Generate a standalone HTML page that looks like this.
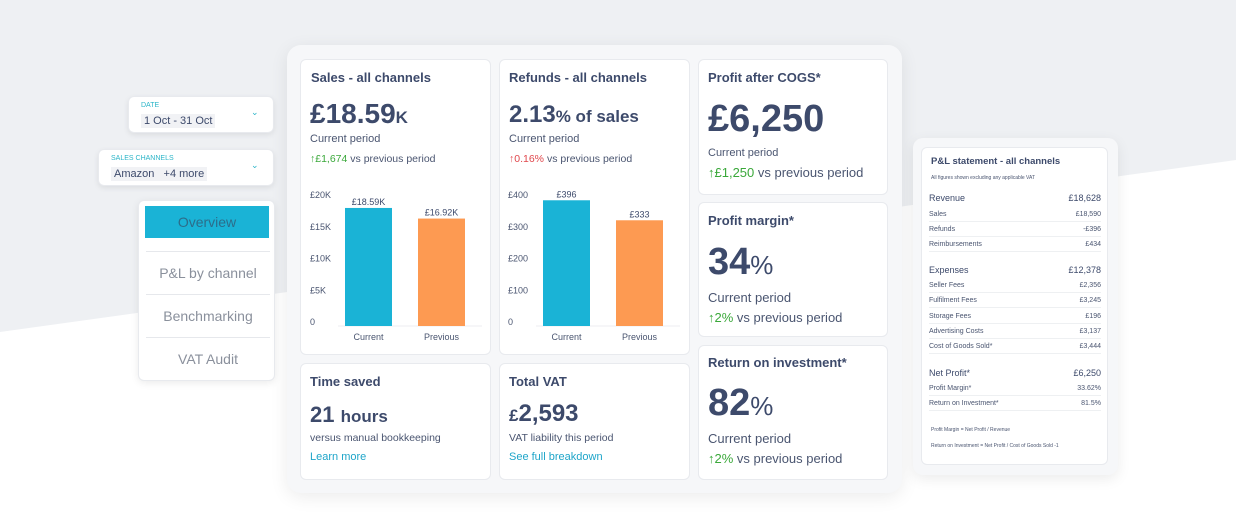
<!DOCTYPE html>
<html><head><meta charset="utf-8">
<style>
*{box-sizing:border-box;margin:0;padding:0}
body{width:1236px;height:531px;overflow:hidden;position:relative;font-family:"Liberation Sans",sans-serif;color:#3d4a6b;background:#fff}
.abs{position:absolute}
.card{position:absolute;background:#fff;border:1px solid #e8eaee;border-radius:6px}
.t{position:absolute;white-space:nowrap}
.h{font-size:13px;font-weight:bold;color:#3d4a6b}
.sub{font-size:12px;color:#4a5570}
.g{color:#3aa83a}.r{color:#e0474c}
.lnk{font-size:11px;color:#1ea5c9}
.nav{position:absolute;left:146px;width:124px;text-align:center;font-size:14px;color:#8a909c;height:42px;line-height:42px;border-top:1px solid #e6e8ec}
.pl{position:absolute;left:929px;width:172px;font-size:7px;color:#4a5570;display:flex;justify-content:space-between;border-bottom:1px solid #eef0f2;padding-bottom:3px}
.pl.big{font-size:9px;color:#3d4a6b;border:none}
</style></head><body>
<svg class="abs" style="left:0;top:0" width="1236" height="531">
<polygon points="0,0 1236,0 1236,160 0,332" fill="#eef0f3"/>
</svg>

<!-- filters -->
<div class="card" style="left:128px;top:96px;width:146px;height:37px;box-shadow:0 2px 6px rgba(0,0,0,.08)">
 <div class="t" style="left:12px;top:5px;font-size:7px;color:#2bb5c8">DATE</div>
 <div class="t" style="left:12px;top:17px;font-size:11px;background:#f1f2f5;padding:1px 3px">1 Oct - 31 Oct</div>
 <div class="t" style="left:122px;top:10px;font-size:9px;color:#2bb5c8">⌄</div>
</div>
<div class="card" style="left:98px;top:149px;width:176px;height:37px;box-shadow:0 2px 6px rgba(0,0,0,.08)">
 <div class="t" style="left:12px;top:5px;font-size:7px;color:#2bb5c8">SALES CHANNELS</div>
 <div class="t" style="left:12px;top:17px;font-size:11px;background:#f1f2f5;padding:1px 3px">Amazon &nbsp; +4 more</div>
 <div class="t" style="left:152px;top:10px;font-size:9px;color:#2bb5c8">⌄</div>
</div>
<div class="card" style="left:138px;top:200px;width:137px;height:181px;box-shadow:0 2px 8px rgba(0,0,0,.08)"></div>
<div class="abs" style="left:145px;top:206px;width:124px;height:32px;background:#1ab3d6;color:#2c6d8a;font-size:14px;text-align:center;line-height:32px">Overview</div>
<div class="nav" style="top:251px">P&amp;L by channel</div>
<div class="nav" style="top:294px">Benchmarking</div>
<div class="nav" style="top:337px">VAT Audit</div>

<!-- main panel -->
<div class="abs" style="left:287px;top:45px;width:615px;height:448px;background:#f6f7f9;border-radius:14px;box-shadow:0 4px 18px rgba(0,0,0,.08)"></div>

<div class="card" style="left:300px;top:59px;width:191px;height:296px">
 <div class="t h" style="left:10px;top:10px">Sales - all channels</div>
 <div class="t" style="left:9px;top:38px;font-size:28px;font-weight:bold">£18.59<span style="font-size:17px">K</span></div>
 <div class="t sub" style="left:9px;top:73px;font-size:11px">Current period</div>
 <div class="t sub" style="left:9px;top:93px;font-size:10.5px"><span class="g">↑£1,674</span> vs previous period</div>
</div>
<div class="card" style="left:499px;top:59px;width:191px;height:296px">
 <div class="t h" style="left:9px;top:10px">Refunds - all channels</div>
 <div class="t" style="left:9px;top:41px;font-size:24px;font-weight:bold">2.13<span style="font-size:17px">% of sales</span></div>
 <div class="t sub" style="left:9px;top:73px;font-size:11px">Current period</div>
 <div class="t sub" style="left:9px;top:93px;font-size:10.5px"><span class="r">↑0.16%</span> vs previous period</div>
</div>
<svg class="abs" style="left:300px;top:180px" width="391" height="175" id="charts"></svg>

<div class="card" style="left:698px;top:59px;width:190px;height:136px">
 <div class="t h" style="left:9px;top:10px">Profit after COGS*</div>
 <div class="t" style="left:9px;top:38px;font-size:38px;font-weight:bold">£6,250</div>
 <div class="t sub" style="left:9px;top:87px;font-size:11px">Current period</div>
 <div class="t sub" style="left:9px;top:105px;font-size:13px"><span class="g">↑£1,250</span> vs previous period</div>
</div>
<div class="card" style="left:698px;top:202px;width:190px;height:135px">
 <div class="t h" style="left:9px;top:10px">Profit margin*</div>
 <div class="t" style="left:9px;top:38px;font-size:38px;font-weight:bold">34<span style="font-size:26px;font-weight:normal">%</span></div>
 <div class="t sub" style="left:9px;top:87px;font-size:13px">Current period</div>
 <div class="t sub" style="left:9px;top:107px;font-size:13px"><span class="g">↑2%</span> vs previous period</div>
</div>
<div class="card" style="left:698px;top:345px;width:190px;height:135px">
 <div class="t h" style="left:9px;top:9px">Return on investment*</div>
 <div class="t" style="left:9px;top:36px;font-size:38px;font-weight:bold">82<span style="font-size:26px;font-weight:normal">%</span></div>
 <div class="t sub" style="left:9px;top:85px;font-size:13px">Current period</div>
 <div class="t sub" style="left:9px;top:105px;font-size:13px"><span class="g">↑2%</span> vs previous period</div>
</div>
<div class="card" style="left:300px;top:363px;width:191px;height:117px">
 <div class="t h" style="left:9px;top:10px">Time saved</div>
 <div class="t" style="left:9px;top:38px;font-size:22px;font-weight:bold">21 <span style="font-size:17px">hours</span></div>
 <div class="t sub" style="left:9px;top:68px;font-size:10.5px">versus manual bookkeeping</div>
 <div class="t lnk" style="left:9px;top:87px">Learn more</div>
</div>
<div class="card" style="left:499px;top:363px;width:191px;height:117px">
 <div class="t h" style="left:9px;top:10px">Total VAT</div>
 <div class="t" style="left:9px;top:36px;font-size:24px;font-weight:bold"><span style="font-size:17px">£</span>2,593</div>
 <div class="t sub" style="left:9px;top:68px;font-size:10.5px">VAT liability this period</div>
 <div class="t lnk" style="left:9px;top:87px">See full breakdown</div>
</div>

<!-- P&L -->
<div class="abs" style="left:913px;top:138px;width:205px;height:337px;background:#f6f7f9;border-radius:10px;box-shadow:0 4px 14px rgba(0,0,0,.08)"></div>
<div class="card" style="left:921px;top:147px;width:187px;height:318px"></div>
<div class="t" style="left:931px;top:156px;font-size:9.5px;font-weight:bold">P&amp;L statement - all channels</div>
<div class="t" style="left:931px;top:175px;font-size:5px;color:#4a5570">All figures shown excluding any applicable VAT</div>
<div id="pl"></div>
<div class="t" style="left:931px;top:427px;font-size:5px;color:#4a5570">Profit Margin = Net Profit / Revenue</div>
<div class="t" style="left:931px;top:443px;font-size:5px;color:#4a5570">Return on Investment = Net Profit / Cost of Goods Sold -1</div>

<script>
const categories=["Current","Previous"];
const salesValues=[18.59,16.92];
const salesLabels=["£18.59K","£16.92K"];
const salesTicks=[0,5,10,15,20];
const salesTickLabels=["0","£5K","£10K","£15K","£20K"];
const refundValues=[396,333];
const refundLabels=["£396","£333"];
const refundTicks=[0,100,200,300,400];
const refundTickLabels=["0","£100","£200","£300","£400"];
const colors=["#1ab3d6","#fd9a52"];
const NS="http://www.w3.org/2000/svg";
const svg=document.getElementById("charts");
function mk(tag,attrs,txt){const e=document.createElementNS(NS,tag);for(const k in attrs)e.setAttribute(k,attrs[k]);if(txt!==undefined)e.textContent=txt;svg.appendChild(e);return e;}
function chart(ox,vals,labels,ticks,tickLabels,max,nm){
  const base=146,top=19;
  const y=v=>base-(v/max)*(base-top);
  const x=i=>ox+45+i*73;
  ticks.forEach((t,i)=>{const e=mk("text",{x:ox+10,y:y(t)-1,"font-size":"9",fill:"#4a5570"},tickLabels[i]);

});
  const ax=mk("line",{x1:ox+38,x2:ox+182,y1:base,y2:base,stroke:"#eceef1"});
  
  
  vals.forEach((v,i)=>{
    const b=mk("rect",{x:x(i),y:y(v),width:47,height:base-y(v),fill:colors[i]});
    
    
    const l=mk("text",{x:x(i)+23.5,y:y(v)-3,"font-size":"9","text-anchor":"middle",fill:"#3d4a6b"},labels[i]);
    
    
    const c=mk("text",{x:x(i)+23.5,y:base+14,"font-size":"9","text-anchor":"middle",fill:"#4a5570"},categories[i]);
    
    
  });
}
chart(0,salesValues,salesLabels,salesTicks,salesTickLabels,20,'sales');
chart(198,refundValues,refundLabels,refundTicks,refundTickLabels,400,'refunds');

const plRows=[["Revenue","£18,628",1,193],["Sales","£18,590",0,211],["Refunds","-£396",0,226],["Reimbursements","£434",0,241],
["Expenses","£12,378",1,265],["Seller Fees","£2,356",0,282],["Fulfilment Fees","£3,245",0,297],["Storage Fees","£196",0,313],["Advertising Costs","£3,137",0,328],["Cost of Goods Sold*","£3,444",0,343],
["Net Profit*","£6,250",1,368],["Profit Margin*","33.62%",0,385],["Return on Investment*","81.5%",0,400]];
const pl=document.getElementById("pl");
plRows.forEach(r=>{const d=document.createElement("div");d.className="pl"+(r[2]?" big":"");d.style.top=r[3]+"px";
d.innerHTML="<span>"+r[0]+"</span><span>"+r[1]+"</span>";


pl.appendChild(d);});
</script>
</body></html>
